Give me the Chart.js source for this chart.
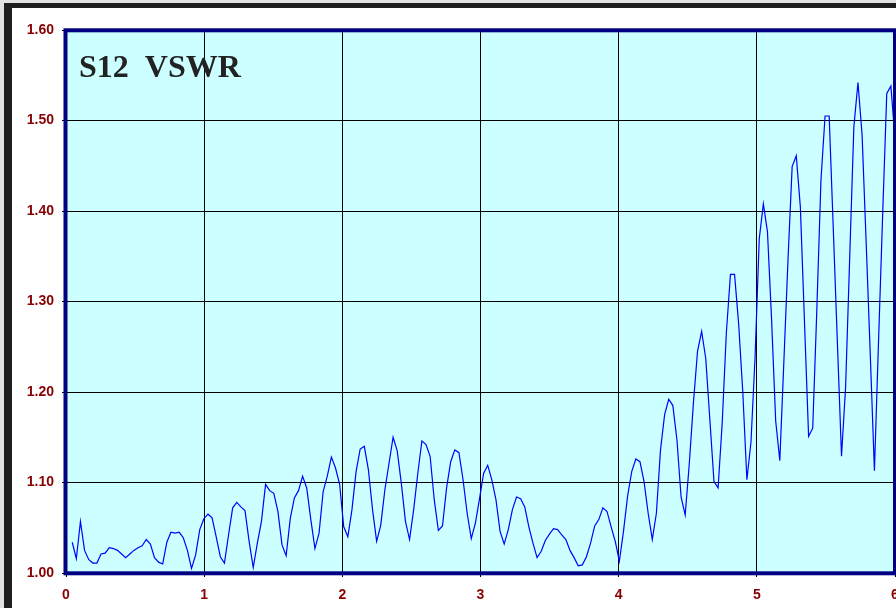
<!DOCTYPE html>
<html>
<head>
<meta charset="utf-8">
<script src="https://cdn.jsdelivr.net/npm/chart.js@4.4.1/dist/chart.umd.min.js"></script>
<style>
html, body { margin:0; padding:0; overflow:hidden; width:896px; height:608px; background:#e2e2e2; }
#frame { position:absolute; left:4px; top:3px; width:960px; height:700px; background:#fff;
         border-left:8px solid #1e1e1e; border-top:5px solid #1e1e1e; }
#wrap { position:absolute; left:0; top:0; }
</style>
</head>
<body>
<div id="frame"></div>
<div id="wrap"><canvas id="myChart" width="935" height="608"></canvas></div>
<script>
var chartTitle = 'S12  VSWR';

// sweep: 201 points, 0.045 .. 6 GHz
var sweepStart = 0.045, sweepStop = 6, sweepPoints = 201;

// VSWR, one value per sweep point
var vswr = [
 1.034,1.016,1.057,1.025,1.015,1.011,1.011,1.021,1.022,1.028,
 1.027,1.025,1.021,1.017,1.021,1.025,1.028,1.030,1.037,1.032,
 1.017,1.012,1.010,1.034,1.045,1.044,1.045,1.039,1.025,1.005,
 1.020,1.048,1.060,1.065,1.061,1.040,1.018,1.011,1.042,1.072,
 1.078,1.073,1.069,1.035,1.006,1.033,1.057,1.098,1.091,1.088,
 1.068,1.031,1.019,1.060,1.083,1.091,1.107,1.094,1.059,1.027,
 1.044,1.090,1.107,1.128,1.116,1.098,1.051,1.040,1.070,1.112,
 1.137,1.140,1.114,1.070,1.035,1.053,1.092,1.121,1.150,1.135,
 1.099,1.057,1.037,1.070,1.110,1.146,1.142,1.129,1.081,1.047,
 1.052,1.094,1.123,1.136,1.133,1.103,1.066,1.038,1.055,1.082,
 1.110,1.119,1.103,1.081,1.046,1.032,1.048,1.070,1.084,1.082,
 1.073,1.051,1.033,1.017,1.024,1.036,1.043,1.049,1.048,1.042,
 1.037,1.025,1.017,1.008,1.009,1.018,1.033,1.052,1.059,1.072,
 1.068,1.051,1.035,1.013,1.046,1.085,1.112,1.126,1.123,1.101,
 1.066,1.037,1.066,1.136,1.175,1.192,1.185,1.147,1.084,1.064,
 1.121,1.188,1.245,1.267,1.237,1.169,1.101,1.094,1.166,1.265,
 1.330,1.330,1.275,1.200,1.103,1.145,1.240,1.369,1.408,1.377,
 1.280,1.168,1.124,1.235,1.347,1.449,1.461,1.404,1.277,1.151,
 1.160,1.291,1.434,1.505,1.505,1.380,1.254,1.129,1.206,1.350,
 1.493,1.542,1.484,1.364,1.240,1.113,1.256,1.396,1.530,1.538,
 1.480
];

var xTicks = [0, 1, 2, 3, 4, 5, 6];
var yTicks = [1.00, 1.10, 1.20, 1.30, 1.40, 1.50, 1.60];

var points = [];
var step = (sweepStop - sweepStart) / (sweepPoints - 1);
for (var i = 0; i < vswr.length; i++) {
  points.push({ x: sweepStart + i * step, y: vswr[i] });
}

var labelFont = { family: '"Liberation Sans", Arial, sans-serif', size: 14, weight: 'bold' };

// plot background, navy frame and the title inside the plot
var plotDeco = {
  id: 'plotDeco',
  beforeDraw: function(chart) {
    var ctx = chart.ctx, a = chart.chartArea;
    ctx.save();
    ctx.fillStyle = '#ccffff';
    ctx.fillRect(a.left, a.top, a.right - a.left, a.bottom - a.top);
    ctx.restore();
  },
  afterDraw: function(chart) {
    var ctx = chart.ctx, a = chart.chartArea;
    ctx.save();
    ctx.strokeStyle = '#000080';
    ctx.lineWidth = 4;
    ctx.strokeRect(a.left - 0.5, a.top + 0.3, a.right - a.left + 0.5, a.bottom - a.top);
    ctx.fillStyle = '#222222';
    ctx.font = 'bold 32px "Liberation Serif", "Times New Roman", serif';
    ctx.textBaseline = 'alphabetic';
    ctx.fillText(chartTitle, a.left + 13, a.top + 47);
    ctx.restore();
  }
};

var ctx = document.getElementById('myChart').getContext('2d');
var myChart = new Chart(ctx, {
  type: 'line',
  data: {
    datasets: [{
      label: chartTitle,
      data: points,
      borderColor: '#0000ff',
      borderWidth: 1.2,
      pointRadius: 0,
      tension: 0,
      fill: false
    }]
  },
  options: {
    responsive: false,
    animation: false,
    layout: { padding: { top: 30, right: 40, left: 0, bottom: 0 } },
    plugins: { legend: { display: false }, tooltip: { enabled: false } },
    scales: {
      x: {
        type: 'linear', min: 0, max: 6,
        afterBuildTicks: function(s) { s.ticks = xTicks.map(function(v) { return { value: v }; }); },
        afterFit: function(s) { s.height = 35; },
        ticks: { color: '#880000', font: labelFont, padding: 10, maxRotation: 0 },
        grid: { color: '#000000', lineWidth: 1, tickLength: 4, tickColor: '#000000' },
        border: { display: false }
      },
      y: {
        type: 'linear', min: 1.0, max: 1.6,
        afterBuildTicks: function(s) { s.ticks = yTicks.map(function(v) { return { value: v }; }); },
        afterFit: function(s) { s.width = 66; },
        ticks: { color: '#880000', font: labelFont, padding: 8,
                 callback: function(v) { return v.toFixed(2); } },
        grid: { color: '#000000', lineWidth: 1, tickLength: 4, tickColor: '#000000' },
        border: { display: false }
      }
    }
  },
  plugins: [plotDeco]
});
</script>
</body>
</html>
